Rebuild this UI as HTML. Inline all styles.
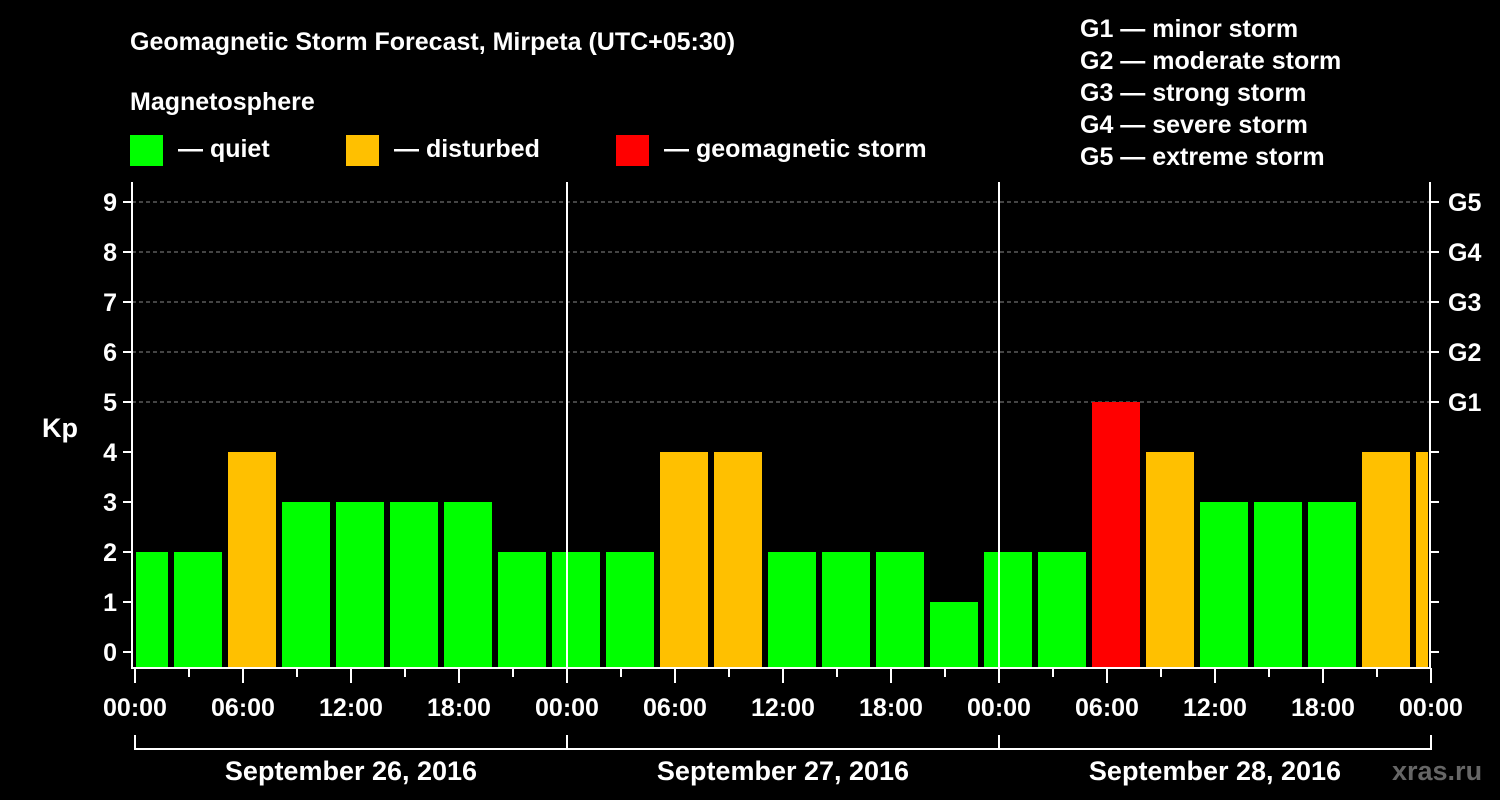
<!DOCTYPE html>
<html><head><meta charset="utf-8"><style>
body{margin:0;background:#000;width:1500px;height:800px;overflow:hidden}
svg{display:block;font-family:"Liberation Sans",sans-serif;font-weight:bold}
</style></head><body>
<svg id="chart" width="1500" height="800">
<text x="130" y="50" fill="#fff" font-size="25">Geomagnetic Storm Forecast, Mirpeta (UTC+05:30)</text>
<text x="130" y="110" fill="#fff" font-size="25">Magnetosphere</text>
<rect x="130" y="135" width="33" height="31" fill="#00ff00"/>
<text x="178" y="157" fill="#fff" font-size="25">— quiet</text>
<rect x="346" y="135" width="33" height="31" fill="#ffc000"/>
<text x="394" y="157" fill="#fff" font-size="25">— disturbed</text>
<rect x="616" y="135" width="33" height="31" fill="#ff0000"/>
<text x="664" y="157" fill="#fff" font-size="25">— geomagnetic storm</text>
<g fill="#fff" font-size="25">
<text x="1080" y="37">G1 — minor storm</text>
<text x="1080" y="69">G2 — moderate storm</text>
<text x="1080" y="101">G3 — strong storm</text>
<text x="1080" y="133">G4 — severe storm</text>
<text x="1080" y="165">G5 — extreme storm</text>
</g>
<text x="42" y="437" fill="#fff" font-size="27">Kp</text>
<text x="1392" y="780" fill="#666" font-size="27">xras.ru</text>
<g id="plot"></g>
</svg>
<script>
const kpValues=[2,2,4,3,3,3,3,2,2,2,4,4,2,2,2,1,2,2,5,4,3,3,3,4,4];
const yTicks=[0,1,2,3,4,5,6,7,8,9];
const gLabels=["G1","G2","G3","G4","G5"];
const gLevels=[5,6,7,8,9];
const xTickLabels=["00:00","06:00","12:00","18:00","00:00","06:00","12:00","18:00","00:00","06:00","12:00","18:00","00:00"];
const dayLabels=["September 26, 2016","September 27, 2016","September 28, 2016"];
const firstBarHour=-0.8333;
const NS="http://www.w3.org/2000/svg";
const g=document.getElementById('plot');
const X0=135,PX_H=18,PL=132,PR=1430,PB=668,PT=182;
const x=h=>X0+h*PX_H;
const y=v=>652-v*50;
function mk(t,a,txt){const e=document.createElementNS(NS,t);for(const k in a)e.setAttribute(k,a[k]);if(txt!==undefined)e.textContent=txt;g.appendChild(e);return e;}
// grid
gLevels.forEach(v=>{const e=mk('line',{x1:PL,x2:PR,y1:y(v),y2:y(v),stroke:'#888','stroke-dasharray':'4,3','stroke-width':1});

});
// bars
kpValues.forEach((v,i)=>{const h=firstBarHour+3*i;let a=x(h),b=x(h+3)-6;a=Math.max(a,PL+4);b=Math.min(b,PR-2);if(b<=a)return;
const c=v>=5?'#ff0000':v>=4?'#ffc000':'#00ff00';
const e=mk('rect',{x:a,y:y(v),width:b-a,height:PB-y(v),fill:c});

});
// axes
mk('line',{x1:PL,x2:PL,y1:PT,y2:PB+1,stroke:'#fff','stroke-width':2});
mk('line',{x1:PR,x2:PR,y1:PT,y2:PB+1,stroke:'#fff','stroke-width':2});
mk('line',{x1:PL,x2:PR,y1:PB,y2:PB,stroke:'#fff','stroke-width':2});
[1,2].forEach(d=>mk('line',{x1:x(24*d),x2:x(24*d),y1:PT,y2:PB,stroke:'#fff','stroke-width':2}));
yTicks.forEach(v=>{mk('line',{x1:PL-9,x2:PL,y1:y(v),y2:y(v),stroke:'#fff','stroke-width':2});
mk('line',{x1:PR,x2:PR+9,y1:y(v),y2:y(v),stroke:'#fff','stroke-width':2});
const t=mk('text',{x:117,y:y(v)+9,fill:'#fff','font-size':25,'text-anchor':'end'},String(v));

});
gLabels.forEach((l,i)=>{const t=mk('text',{x:1448,y:y(gLevels[i])+9,fill:'#fff','font-size':25},l);

});
for(let h=0;h<=72;h+=3){const maj=h%6===0;mk('line',{x1:x(h),x2:x(h),y1:PB,y2:PB+(maj?15:9),stroke:'#fff','stroke-width':2});}
xTickLabels.forEach((l,i)=>{const t=mk('text',{x:x(6*i),y:716,fill:'#fff','font-size':25,'text-anchor':'middle'},l);

});
mk('line',{x1:x(0),x2:x(72),y1:749,y2:749,stroke:'#fff','stroke-width':2});
[0,1,2,3].forEach(d=>mk('line',{x1:x(24*d),x2:x(24*d),y1:735,y2:750,stroke:'#fff','stroke-width':2}));
dayLabels.forEach((l,i)=>{const t=mk('text',{x:x(24*i+12),y:780,fill:'#fff','font-size':27,'text-anchor':'middle'},l);

});
</script>
</body></html>
